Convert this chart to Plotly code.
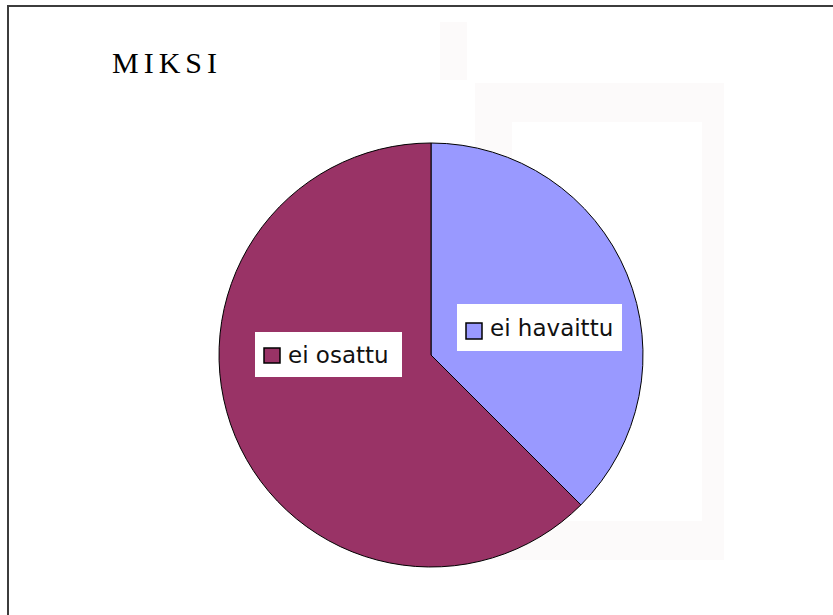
import plotly.graph_objects as go

# Pie data: reasons ("MIKSI")
categories = ["ei havaittu", "ei osattu"]
values = [3, 5]
colors = ["#9999FF", "#993366"]

W, H = 833, 615


def px(x):
    return x / W


def py(y):
    return 1 - y / H


fig = go.Figure(
    go.Pie(
        labels=categories,
        values=values,
        sort=False,
        direction="clockwise",
        rotation=0,
        textinfo="none",
        hoverinfo="label+value+percent",
        marker=dict(colors=colors, line=dict(color="#000000", width=1)),
        domain=dict(x=[px(219), px(643)], y=[py(568), py(142)]),
        showlegend=False,
    )
)

shapes = []
# faint background panels
shapes.append(dict(type="rect", xref="paper", yref="paper", layer="below",
                   x0=px(440), x1=px(467), y0=py(80), y1=py(22),
                   line=dict(width=0), fillcolor="#FCFAFA"))
shapes.append(dict(type="rect", xref="paper", yref="paper", layer="below",
                   x0=px(475), x1=px(724), y0=py(560), y1=py(83),
                   line=dict(width=0), fillcolor="#FCFAFA"))
shapes.append(dict(type="rect", xref="paper", yref="paper", layer="below",
                   x0=px(512), x1=px(702), y0=py(521), y1=py(122),
                   line=dict(width=0), fillcolor="#FFFFFF"))
# chart frame
shapes.append(dict(type="rect", xref="paper", yref="paper", layer="above",
                   x0=px(8), x1=px(850), y0=py(640), y1=py(6),
                   line=dict(color="#3C3C3C", width=2), fillcolor="rgba(0,0,0,0)"))

# data-label boxes with legend keys
label_boxes = {
    "ei osattu": dict(box=(255, 332, 402, 377), key=(264, 348, 280, 363), text_x=286),
    "ei havaittu": dict(box=(457, 304, 622, 351), key=(466, 323, 482, 339), text_x=488),
}
annotations = []
for name, color in zip(categories, colors):
    spec = label_boxes[name]
    bx0, by0, bx1, by1 = spec["box"]
    kx0, ky0, kx1, ky1 = spec["key"]
    shapes.append(dict(type="rect", xref="paper", yref="paper", layer="above",
                       x0=px(bx0), x1=px(bx1), y0=py(by1), y1=py(by0),
                       line=dict(width=0), fillcolor="#FFFFFF"))
    shapes.append(dict(type="rect", xref="paper", yref="paper", layer="above",
                       x0=px(kx0), x1=px(kx1), y0=py(ky1), y1=py(ky0),
                       line=dict(color="#000000", width=1.5), fillcolor=color))
    annotations.append(dict(
        text=name, xref="paper", yref="paper",
        x=px(spec["text_x"]), y=py((by0 + by1) / 2),
        xanchor="left", yanchor="middle", showarrow=False,
        font=dict(family="DejaVu Sans", size=23, color="#111111"),
    ))

# title
annotations.append(dict(
    text="M\u2006I\u2006K\u2006S\u2006I", xref="paper", yref="paper",
    x=px(110), y=py(63), xanchor="left", yanchor="middle", showarrow=False,
    font=dict(family="Liberation Serif", size=30, color="#000000"),
))

fig.update_layout(
    width=W, height=H,
    margin=dict(l=0, r=0, t=0, b=0),
    paper_bgcolor="#FFFFFF",
    plot_bgcolor="#FFFFFF",
    shapes=shapes,
    annotations=annotations,
)

fig.write_html("out.html")
